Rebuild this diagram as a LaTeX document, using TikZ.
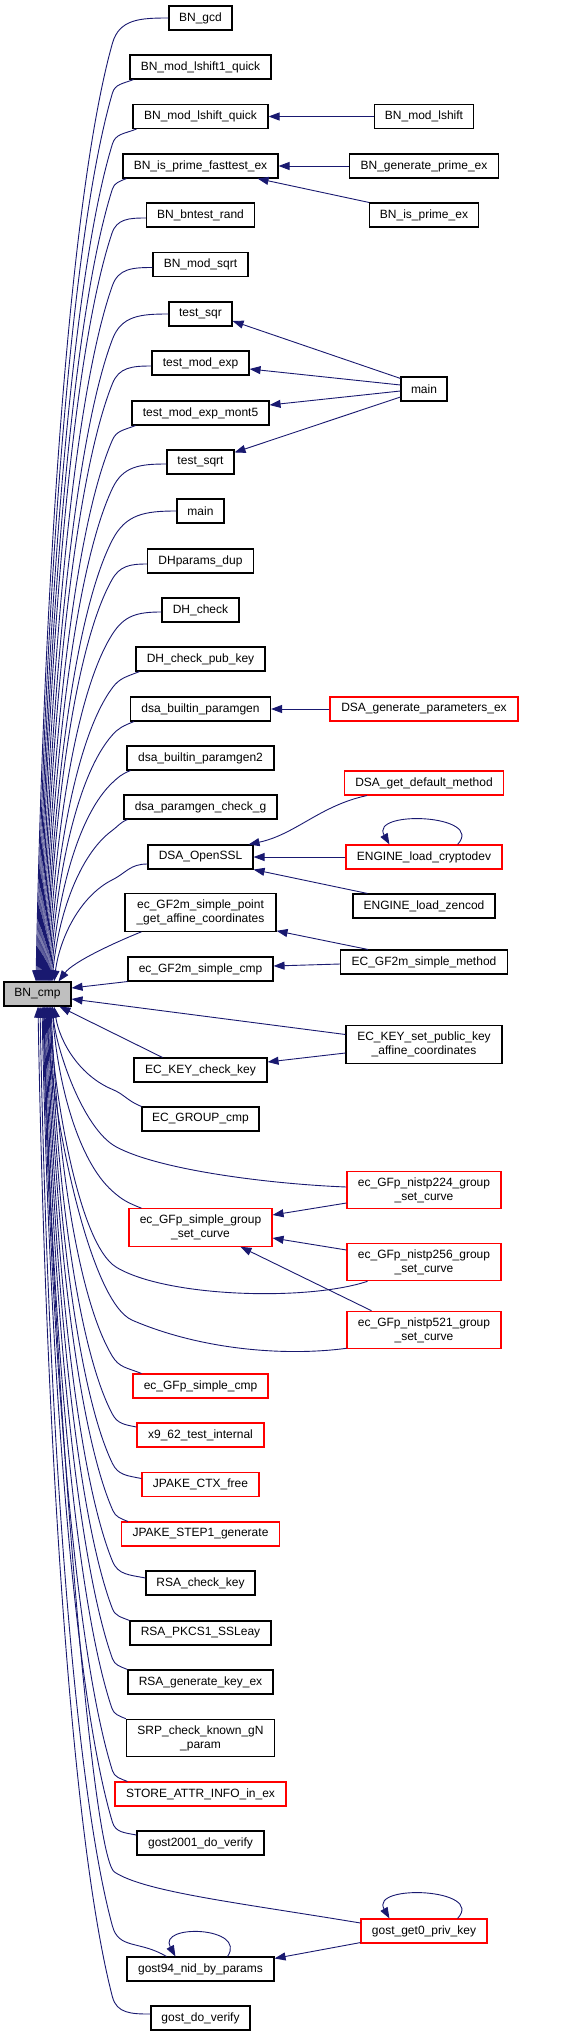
\documentclass[tikz,border=0pt]{standalone}
\usepackage{fontspec}
\setmainfont{Liberation Sans}
\usetikzlibrary{arrows.meta}
\definecolor{edgeblue}{RGB}{25,25,112}
\definecolor{boxgrey}{RGB}{191,191,191}
\definecolor{boxred}{RGB}{255,0,0}
\tikzset{
  cgbox/.style={draw=black, line width=1.1pt, fill=white, inner sep=0pt, minimum height=24,
    font=\fontsize{12}{14}\selectfont, align=center},
  cgred/.style={cgbox, draw=boxred},
  cgtwo/.style={minimum height=37.5},
  cgedge/.style={draw=edgeblue, line width=0.9pt, -{Triangle[length=11pt,width=8pt]}},
}
% upper fan edges into BN_cmp top
\newcommand\cgUp[5]{%
 \pgfmathsetmacro\cga{max(#2-113,8)}%
 \pgfmathsetmacro\cgb{max(9,0.45*\cga+10*#5)}%
 \pgfmathsetmacro\cgsp{113-#4}%
 \pgfmathsetmacro\cgD{982-#3-\cgb}%
 \pgfmathsetmacro\cgqax{-0.55*\cgsp}%
 \pgfmathsetmacro\cgqay{0.16*\cgD}%
 \pgfmathsetmacro\cgqbx{0.1*\cgsp}%
 \pgfmathsetmacro\cgqby{-0.43*\cgD}%
 \pgfmathsetmacro\cgl{veclen(\cgqax,\cgqay)}%
 \pgfmathsetmacro\cgcx{-0.45*\cga*\cgqax/\cgl}%
 \pgfmathsetmacro\cgcy{-0.45*\cga*\cgqay/\cgl}%
 \pgfmathsetmacro\cgsx{-0.5*\cga}%
 \pgfmathsetmacro\cgsy{0.5*\cga*#5}%
 \draw[cgedge] (#1) .. controls +(\cgsx,\cgsy) and +(\cgcx,\cgcy) .. ++(-\cga,\cgb) .. controls +(\cgqax,\cgqay) and +(\cgqbx,\cgqby) .. ([shift={(#4-37.5,0)}]bncmp.north);
}
% lower fan edges into BN_cmp bottom
\newcommand\cgDown[5]{%
 \pgfmathsetmacro\cga{max(#2-113,8)}%
 \pgfmathsetmacro\cgb{max(9,0.45*\cga+10*#5)}%
 \pgfmathsetmacro\cgsp{113-#4}%
 \pgfmathsetmacro\cgD{#3-1006-\cgb}%
 \pgfmathsetmacro\cgqax{-0.55*\cgsp}%
 \pgfmathsetmacro\cgqay{-0.16*\cgD}%
 \pgfmathsetmacro\cgqbx{0.1*\cgsp}%
 \pgfmathsetmacro\cgqby{0.43*\cgD}%
 \pgfmathsetmacro\cgl{veclen(\cgqax,\cgqay)}%
 \pgfmathsetmacro\cgcx{-0.45*\cga*\cgqax/\cgl}%
 \pgfmathsetmacro\cgcy{-0.45*\cga*\cgqay/\cgl}%
 \pgfmathsetmacro\cgsx{-0.5*\cga}%
 \pgfmathsetmacro\cgsy{-0.5*\cga*#5}%
 \draw[cgedge] (#1) .. controls +(\cgsx,\cgsy) and +(\cgcx,\cgcy) .. ++(-\cga,-\cgb) .. controls +(\cgqax,\cgqay) and +(\cgqbx,\cgqby) .. ([shift={(#4-37.5,0)}]bncmp.south);
}
\begin{document}
\begin{tikzpicture}[x=1pt,y=-1pt]
\useasboundingbox (0,0) rectangle (571,2036);
% ---------- middle column ----------
\node[cgbox, minimum width=63] (bngcd) at (200.5,18) {BN\_gcd};
\node[cgbox, minimum width=141] (bnmodlshiftonequick) at (200.5,67) {BN\_mod\_lshift1\_quick};
\node[cgbox, minimum width=135] (bnmodlshiftquick) at (200.5,116.5) {BN\_mod\_lshift\_quick};
\node[cgbox, minimum width=155] (bnisprimefasttestex) at (200.5,166) {BN\_is\_prime\_fasttest\_ex};
\node[cgbox, minimum width=108] (bnbntestrand) at (200.5,215) {BN\_bntest\_rand};
\node[cgbox, minimum width=95] (bnmodsqrt) at (200.5,264.5) {BN\_mod\_sqrt};
\node[cgbox, minimum width=63] (testsqr) at (200.5,314) {test\_sqr};
\node[cgbox, minimum width=97] (testmodexp) at (200.5,363) {test\_mod\_exp};
\node[cgbox, minimum width=137] (testmodexpmontfive) at (200.5,413) {test\_mod\_exp\_mont5};
\node[cgbox, minimum width=67] (testsqrt) at (200.5,462) {test\_sqrt};
\node[cgbox, minimum width=47] (mainl) at (200.5,511) {main};
\node[cgbox, minimum width=106] (dhparamsdup) at (200.5,561) {DHparams\_dup};
\node[cgbox, minimum width=77] (dhcheck) at (200.5,610) {DH\_check};
\node[cgbox, minimum width=129] (dhcheckpubkey) at (200.5,659) {DH\_check\_pub\_key};
\node[cgbox, minimum width=140] (dsabuiltinparamgen) at (200.5,709) {dsa\_builtin\_paramgen};
\node[cgbox, minimum width=147] (dsabuiltinparamgentwo) at (200.5,758) {dsa\_builtin\_paramgen2};
\node[cgbox, minimum width=153] (dsaparamgencheckg) at (200.5,807) {dsa\_paramgen\_check\_g};
\node[cgbox, minimum width=105] (dsaopenssl) at (200.5,857) {DSA\_OpenSSL};
\node[cgbox, cgtwo, minimum width=151] (ecgftwompoint) at (200.5,912.5) {ec\_GF2m\_simple\_point\\\_get\_affine\_coordinates};
\node[cgbox, minimum width=145] (ecgftwomcmp) at (200.5,969) {ec\_GF2m\_simple\_cmp};
\node[cgbox, fill=boxgrey, minimum width=67] (bncmp) at (37.5,994) {BN\_cmp};
\node[cgbox, minimum width=133] (eckeycheckkey) at (200.5,1070) {EC\_KEY\_check\_key};
\node[cgbox, minimum width=117] (ecgroupcmp) at (200.5,1119) {EC\_GROUP\_cmp};
\node[cgred, cgtwo, minimum width=143] (ecgfpsimplegroup) at (200.5,1227.5) {ec\_GFp\_simple\_group\\\_set\_curve};
\node[cgred, minimum width=135] (ecgfpsimplecmp) at (200.5,1386) {ec\_GFp\_simple\_cmp};
\node[cgred, minimum width=127] (xninesixtytwo) at (200.5,1435) {x9\_62\_test\_internal};
\node[cgred, minimum width=117] (jpakectxfree) at (200.5,1484.5) {JPAKE\_CTX\_free};
\node[cgred, minimum width=158] (jpakestepone) at (200.5,1534) {JPAKE\_STEP1\_generate};
\node[cgbox, minimum width=109] (rsacheckkey) at (200.5,1583) {RSA\_check\_key};
\node[cgbox, minimum width=141] (rsapkcsone) at (200.5,1633) {RSA\_PKCS1\_SSLeay};
\node[cgbox, minimum width=145] (rsagenkeyex) at (200.5,1682) {RSA\_generate\_key\_ex};
\node[cgbox, cgtwo, minimum width=148] (srp) at (200.5,1738) {SRP\_check\_known\_gN\\\_param};
\node[cgred, minimum width=171] (store) at (200.5,1794) {STORE\_ATTR\_INFO\_in\_ex};
\node[cgbox, minimum width=127] (gosttwothousandone) at (200.5,1843) {gost2001\_do\_verify};
\node[cgbox, minimum width=147] (gostninetyfour) at (200.5,1969) {gost94\_nid\_by\_params};
\node[cgbox, minimum width=99] (gostdoverify) at (200.5,2018) {gost\_do\_verify};
% ---------- right column ----------
\node[cgbox, minimum width=99] (bnmodlshift) at (424,116.5) {BN\_mod\_lshift};
\node[cgbox, minimum width=149] (bngenerateprimeex) at (424,166) {BN\_generate\_prime\_ex};
\node[cgbox, minimum width=109] (bnisprimeex) at (424,215) {BN\_is\_prime\_ex};
\node[cgbox, minimum width=46] (mainr) at (424,389) {main};
\node[cgred, minimum width=188] (dsagenerateparams) at (424,709) {DSA\_generate\_parameters\_ex};
\node[cgred, minimum width=159] (dsagetdefault) at (424,783) {DSA\_get\_default\_method};
\node[cgred, minimum width=156] (enginecryptodev) at (424,857) {ENGINE\_load\_cryptodev};
\node[cgbox, minimum width=142] (enginezencod) at (424,906) {ENGINE\_load\_zencod};
\node[cgbox, minimum width=167] (ecgftwommethod) at (424,962) {EC\_GF2m\_simple\_method};
\node[cgbox, cgtwo, minimum width=156] (eckeysetpub) at (424,1044.5) {EC\_KEY\_set\_public\_key\\\_affine\_coordinates};
\node[cgred, cgtwo, minimum width=154] (nistptwotwofour) at (424,1190) {ec\_GFp\_nistp224\_group\\\_set\_curve};
\node[cgred, cgtwo, minimum width=154] (nistptwofivesix) at (424,1262) {ec\_GFp\_nistp256\_group\\\_set\_curve};
\node[cgred, cgtwo, minimum width=154] (nistpfivetwoone) at (424,1330) {ec\_GFp\_nistp521\_group\\\_set\_curve};
\node[cgred, minimum width=126] (gostgetzero) at (424,1931) {gost\_get0\_priv\_key};
% ---------- fan into BN_cmp (top) ----------
\cgUp{bngcd.west}{169}{18}{36}{0}
\cgUp{[shift={(4,0)}]bnmodlshiftonequick.south west}{134}{79}{37}{0.4}
\cgUp{[shift={(4,0)}]bnmodlshiftquick.south west}{137}{129}{38}{0.4}
\cgUp{[shift={(4,0)}]bnisprimefasttestex.south west}{127}{178}{39}{0.4}
\cgUp{[shift={(0,3)}]bnbntestrand.west}{147}{218}{40}{0}
\cgUp{[shift={(0,3)}]bnmodsqrt.west}{153}{267.5}{41}{0}
\cgUp{testsqr.west}{169}{314}{42}{0}
\cgUp{[shift={(0,3)}]testmodexp.west}{152}{366}{43}{0}
\cgUp{[shift={(4,0)}]testmodexpmontfive.south west}{136}{425}{44}{0.4}
\cgUp{[shift={(0,2)}]testsqrt.west}{167}{464}{45}{0}
\cgUp{mainl.west}{177}{511}{46}{0}
\cgUp{[shift={(0,3)}]dhparamsdup.west}{148}{564}{47}{0}
\cgUp{[shift={(0,2)}]dhcheck.west}{162}{612}{48}{0}
\cgUp{[shift={(4,0)}]dhcheckpubkey.south west}{140}{671}{49}{0.4}
\cgUp{[shift={(4,0)}]dsabuiltinparamgen.south west}{135}{721}{50}{0.4}
\cgUp{[shift={(4,0)}]dsabuiltinparamgentwo.south west}{131}{770}{51}{0.4}
\cgUp{[shift={(4,0)}]dsaparamgencheckg.south west}{128}{819}{52}{0.4}
\cgUp{[shift={(0,7)}]dsaopenssl.west}{148}{864}{54}{0}
\draw[cgedge] ([shift={(17,0)}]ecgftwompoint.south west) .. controls +(-25,10) and +(15,-20) .. ([shift={(21,0)}]bncmp.north);
\draw[cgedge] (ecgftwomcmp.south west) -- ([shift={(0,-6)}]bncmp.east);
% ---------- fan into BN_cmp (bottom) ----------
\draw[cgedge] ([shift={(0,-10)}]eckeysetpub.west) -- ([shift={(0,5)}]bncmp.east);
\draw[cgedge] ([shift={(29,0)}]eckeycheckkey.north west) -- ([shift={(22,0)}]bncmp.south);
\cgDown{ecgroupcmp.north west}{142}{1107}{54}{0.4}
\cgDown{[shift={(13,0)}]ecgfpsimplegroup.north west}{142}{1209}{52}{0.4}
\cgDown{[shift={(9,0)}]ecgfpsimplecmp.north west}{142}{1374}{51}{0.4}
\cgDown{[shift={(0,-8)}]xninesixtytwo.west}{137}{1427}{50}{0.2}
\cgDown{[shift={(0,-6)}]jpakectxfree.west}{142}{1478}{49}{0.2}
\cgDown{[shift={(7,0)}]jpakestepone.north west}{128}{1522}{48}{0.4}
\cgDown{[shift={(0,-5)}]rsacheckkey.west}{146}{1578}{47}{0.2}
\cgDown{rsapkcsone.north west}{130}{1621}{46}{0.4}
\cgDown{rsagenkeyex.north west}{128}{1670}{45}{0.4}
\cgDown{srp.north west}{127}{1719}{44}{0.4}
\cgDown{[shift={(13,0)}]store.north west}{128}{1782}{43}{0.4}
\cgDown{[shift={(0,-8)}]gosttwothousandone.west}{137}{1835}{42}{0.2}
\cgDown{[shift={(40,0)}]gostninetyfour.north west}{167}{1957}{40}{0.6}
\cgDown{[shift={(0,-4)}]gostdoverify.west}{151}{2014}{38}{0}
\draw[cgedge] ([shift={(0,-3)}]nistptwotwofour.west) .. controls +(-77,-3) and +(43,23) .. ++(-230,-40) .. controls +(-34,-18) and +(3,40) .. ([shift={(15,0)}]bncmp.south);
\draw[cgedge] ([shift={(21,0)}]nistptwofivesix.south west) .. controls +(-60,20) and +(50,30) .. ++(-251,-14) .. controls +(-40,-24) and +(2,70) .. ([shift={(12.5,0)}]bncmp.south);
\draw[cgedge] ([shift={(0,-1)}]nistpfivetwoone.south west) .. controls +(-60,8) and +(70,30) .. ++(-214,-28) .. controls +(-45,-19) and +(2,90) .. ([shift={(9.5,0)}]bncmp.south);
\draw[cgedge] ([shift={(0,-8)}]gostgetzero.west) .. controls +(-120,-20) and +(30,20) .. ++(-246,-51) .. controls +(-25,-17) and +(5,300) .. ([shift={(6.5,0)}]bncmp.south);
% ---------- right-hand callers ----------
\draw[cgedge] (bnmodlshift) -- (bnmodlshiftquick);
\draw[cgedge] (bngenerateprimeex) -- (bnisprimefasttestex);
\draw[cgedge] (bnisprimeex.north west) -- ([shift={(-21,0)}]bnisprimefasttestex.south east);
\draw[cgedge] ([shift={(0,2)}]mainr.north west) -- ([shift={(0,7)}]testsqr.east);
\draw[cgedge] ([shift={(0,-4)}]mainr.west) -- ([shift={(0,6)}]testmodexp.east);
\draw[cgedge] ([shift={(0,2)}]mainr.west) -- ([shift={(0,-8)}]testmodexpmontfive.east);
\draw[cgedge] ([shift={(0,8)}]mainr.west) -- ([shift={(0,3)}]testsqrt.north east);
\draw[cgedge] (dsagenerateparams) -- (dsabuiltinparamgen);
\draw[cgedge] ([shift={(23,0)}]dsagetdefault.south west) .. controls +(-47,10) and +(47,-10) .. ([shift={(-5,0)}]dsaopenssl.north east);
\draw[cgedge] (enginecryptodev) -- (dsaopenssl);
\draw[cgedge] ([shift={(-45,0)}]enginecryptodev.north east) .. controls +(28,-30) and +(-20,-35) .. ([shift={(44,0)}]enginecryptodev.north west);
\draw[cgedge] ([shift={(15,0)}]enginezencod.north west) -- (dsaopenssl.south east);
\draw[cgedge] ([shift={(28,0)}]ecgftwommethod.north west) -- ([shift={(0,-1)}]ecgftwompoint.south east);
\draw[cgedge] ([shift={(0,2)}]ecgftwommethod.west) -- ([shift={(0,-3)}]ecgftwomcmp.east);
\draw[cgedge] ([shift={(0,8.5)}]eckeysetpub.west) -- ([shift={(0,-8)}]eckeycheckkey.east);
\draw[cgedge] ([shift={(0,13)}]nistptwotwofour.west) -- ([shift={(0,-12.5)}]ecgfpsimplegroup.east);
\draw[cgedge] ([shift={(0,-12)}]nistptwofivesix.west) -- ([shift={(0,10.5)}]ecgfpsimplegroup.east);
\draw[cgedge] ([shift={(25,0)}]nistpfivetwoone.north west) -- ([shift={(-32,0)}]ecgfpsimplegroup.south east);
\draw[cgedge] ([shift={(0,-1)}]gostgetzero.south west) -- ([shift={(0,2)}]gostninetyfour.north east);
\draw[cgedge] ([shift={(-30,0)}]gostgetzero.north east) .. controls +(28,-30) and +(-20,-35) .. ([shift={(29,0)}]gostgetzero.north west);
\draw[cgedge] ([shift={(-47,0)}]gostninetyfour.north east) .. controls +(20,-30) and +(-18,-33) .. ([shift={(49,0)}]gostninetyfour.north west);
\end{tikzpicture}
\end{document}
